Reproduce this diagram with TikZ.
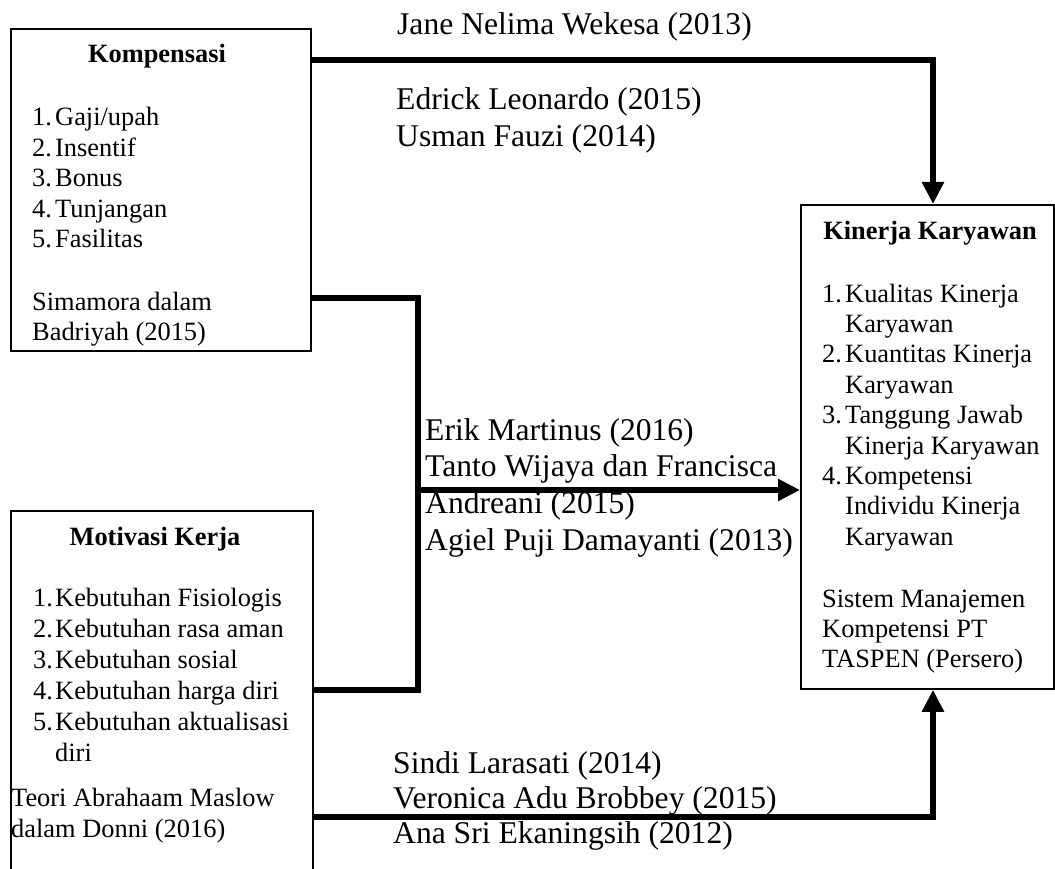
\documentclass[tikz,border=0pt]{standalone}
\usepackage{fontspec}
\setmainfont{Liberation Serif}
\usetikzlibrary{arrows.meta}
\tikzset{
  box/.style={draw, line width=1.8pt, inner sep=0pt, anchor=north west},
  conn/.style={line width=6.5pt, line join=miter},
  arr/.style={conn, -{Triangle[length=22pt,width=21pt]}},
  boxtxt/.style={inner sep=0pt, anchor=base west, font=\fontsize{26.4}{#1}\selectfont},
  boxtxt/.default=30.4,
  boxtitle/.style={inner sep=0pt, anchor=base, font=\fontsize{26.4}{30.4}\selectfont\bfseries},
  lbl/.style={inner sep=0pt, anchor=base west, font=\fontsize{31.6}{#1}\selectfont},
  lbl/.default=37,
}
\begin{document}
\begin{tikzpicture}[x=1pt,y=-1pt]
\useasboundingbox (0,0) rectangle (1055,869);
\clip (0,0) rectangle (1055,869);
% boxes
\node[box, minimum width=300pt, minimum height=322pt] (komp) at (10,28) {};
\node[box, minimum width=302pt, minimum height=420pt] (motiv) at (10,510) {};
\node[box, minimum width=253pt, minimum height=484pt] (kin) at (800,204) {};
% Kompensasi content
\node[boxtitle] (kompT) at (157,63) {Kompensasi};
\node[boxtxt=30.5] (kompL) at (32,126) {\begin{tabular}[t]{@{}p{23pt}@{}l@{}}1.&Gaji/upah\\2.&Insentif\\3.&Bonus\\4.&Tunjangan\\5.&Fasilitas\end{tabular}};
\node[boxtxt=30] (kompS) at (32,310) {\begin{tabular}[t]{@{}l@{}}Simamora dalam\\Badriyah (2015)\end{tabular}};
% Motivasi content
\node[boxtitle] (motivT) at (155,545) {Motivasi Kerja};
\node[boxtxt=31] (motivL) at (33,606) {\begin{tabular}[t]{@{}p{22pt}@{}l@{}}1.&Kebutuhan Fisiologis\\2.&Kebutuhan rasa aman\\3.&Kebutuhan sosial\\4.&Kebutuhan harga diri\\5.&Kebutuhan aktualisasi\\&diri\end{tabular}};
\node[boxtxt=31] (motivS) at (11,806) {\begin{tabular}[t]{@{}l@{}}Teori Abrahaam Maslow\\dalam Donni (2016)\end{tabular}};
% Kinerja content
\node[boxtitle] (kinT) at (930,240) {Kinerja Karyawan};
\node[boxtxt=30.4] (kinL) at (822,302) {\begin{tabular}[t]{@{}p{23pt}@{}l@{}}1.&Kualitas Kinerja\\&Karyawan\\2.&Kuantitas Kinerja\\&Karyawan\\3.&Tanggung Jawab\\&Kinerja Karyawan\\4.&Kompetensi\\&Individu Kinerja\\&Karyawan\end{tabular}};
\node[boxtxt=30] (kinS) at (822,607) {\begin{tabular}[t]{@{}l@{}}Sistem Manajemen\\Kompetensi PT\\TASPEN (Persero)\end{tabular}};
% connector labels
\node[lbl] (jane) at (397,35) {Jane Nelima Wekesa (2013)};
\node[lbl=37] (edrick) at (396,110) {\begin{tabular}[t]{@{}l@{}}Edrick Leonardo (2015)\\Usman Fauzi (2014)\end{tabular}};
\node[lbl=36.7] (erik) at (425,440) {\begin{tabular}[t]{@{}l@{}}Erik Martinus (2016)\\Tanto Wijaya dan Francisca\\Andreani (2015)\\Agiel Puji Damayanti (2013)\end{tabular}};
\node[lbl=35] (sindi) at (393,773) {\begin{tabular}[t]{@{}l@{}}Sindi Larasati (2014)\\Veronica Adu Brobbey (2015)\\Ana Sri Ekaningsih (2012)\end{tabular}};
% helper coordinates
\coordinate (xa) at (933,0);
\coordinate (xj) at (418,0);
\coordinate (yt) at (0,60);
\coordinate (yk) at (0,298);
\coordinate (ym) at (0,690);
\coordinate (ymid) at (0,490);
\coordinate (yb) at (0,817);
% connectors
\draw[arr] (komp.east |- yt) -| (xa |- kin.north);
\draw[conn] (komp.east |- yk) -| (xj |- ym) -- (motiv.east |- ym);
\draw[arr] (xj |- ymid) -- (kin.west |- ymid);
\draw[arr] (motiv.east |- yb) -| (xa |- kin.south);
\end{tikzpicture}
\end{document}
